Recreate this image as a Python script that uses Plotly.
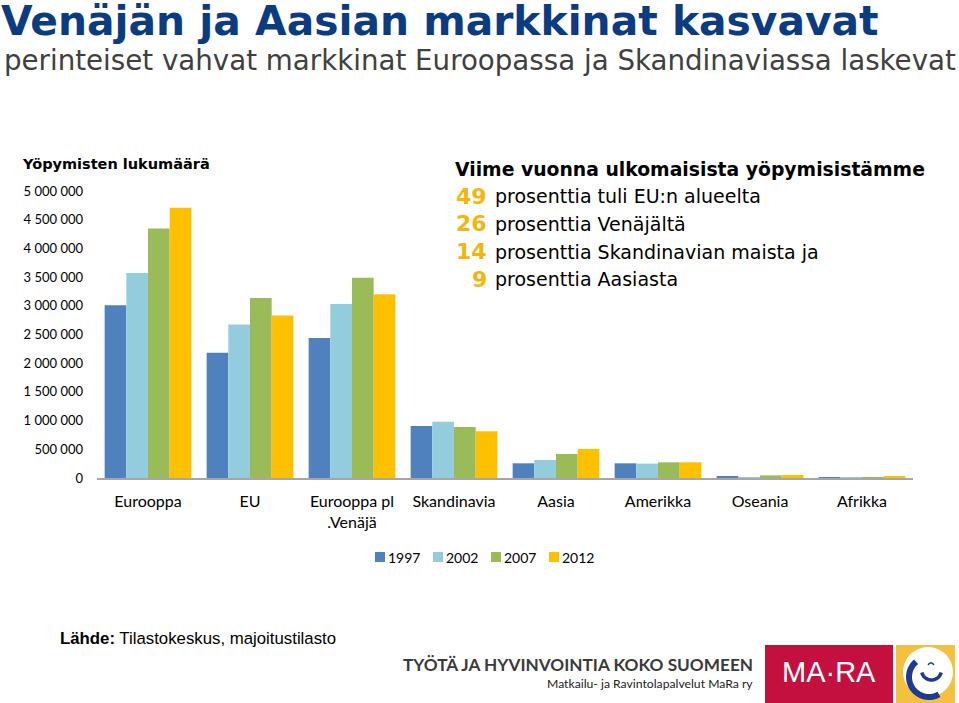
import math
import plotly.graph_objects as go

categories = ["Eurooppa", "EU", "Eurooppa pl<br>.Venäjä", "Skandinavia", "Aasia", "Amerikka", "Oseania", "Afrikka"]
years = ["1997", "2002", "2007", "2012"]
v1997 = [3010000, 2180000, 2440000, 905000, 256000, 256000, 23000, 12000]
v2002 = [3570000, 2675000, 3030000, 982000, 314000, 250000, 17000, 8000]
v2007 = [4345000, 3135000, 3490000, 890000, 419000, 273000, 46000, 15000]
v2012 = [4710000, 2830000, 3200000, 814000, 506000, 273000, 52000, 20000]
series = [v1997, v2002, v2007, v2012]
colors = ["#4F81BD", "#93CDDD", "#9BBB59", "#FFC000"]
y_ticks = [0, 500000, 1000000, 1500000, 2000000, 2500000, 3000000, 3500000, 4000000, 4500000, 5000000]

W, H = 959, 703
PL, PR, PT, PB = 97, 913, 191, 478


def px(x):
    return (x - PL) / (PR - PL)


def py(y):
    return (PB - y) / (PB - PT)


def note(x, y, text, anchor, family, size, color):
    xx = x - 2 if anchor == "left" else (x + 2 if anchor == "right" else x)
    return dict(x=px(xx), y=py(y), xref="paper", yref="paper", text=text, xanchor=anchor, yanchor="middle",
                font=dict(family=family, size=size, color=color), showarrow=False)


fig = go.Figure()
for name, vals, col in zip(years, series, colors):
    fig.add_trace(go.Bar(x=categories, y=vals, name=name, marker=dict(color=col, line=dict(width=0)),
                         showlegend=False))

ann = []
ann.append(note(1, 21, "<b>Venäjän ja Aasian markkinat kasvavat</b>", "left", "DejaVu Sans", 40.8, "#0B3B80"))
ann.append(note(4, 60, "perinteiset vahvat markkinat Euroopassa ja Skandinaviassa laskevat", "left",
                "DejaVu Sans", 27.7, "#404040"))
ann.append(note(22, 164, "<b>Yöpymisten lukumäärä</b>", "left", "DejaVu Sans", 14.5, "#000000"))
ann.append(note(455, 170, "<b>Viime vuonna ulkomaisista yöpymisistämme</b>", "left", "DejaVu Sans", 18.8, "#000000"))
nums = ["49", "26", "14", "9"]
texts = ["prosenttia tuli EU:n alueelta", "prosenttia Venäjältä", "prosenttia Skandinavian maista ja", "prosenttia Aasiasta"]
row_y = [196, 223.5, 251.5, 279]
for n, t, yy in zip(nums, texts, row_y):
    ann.append(note(487, yy, "<b>" + n + "</b>", "right", "DejaVu Sans", 22, "#F5B50F"))
    ann.append(note(495, yy, t, "left", "DejaVu Sans", 19, "#000000"))

# legend (custom, compact like the original)
leg_shapes = []
for i, (name, col) in enumerate(zip(years, colors)):
    x0 = 375 + 58 * i
    ann.append(note(388 + 58 * i, 557, name, "left", "Lato", 14, "#000000"))
    leg_shapes.append(dict(type="rect", xref="paper", yref="paper", x0=px(x0), x1=px(x0 + 10),
                           y0=py(562), y1=py(552), fillcolor=col, line=dict(width=0)))

ann.append(note(60, 638, "<b>Lähde:</b> Tilastokeskus, majoitustilasto", "left", "Liberation Sans", 16.8, "#000000"))
ann.append(note(753, 664, "<b>TYÖTÄ JA HYVINVOINTIA KOKO SUOMEEN</b>", "right", "Lato", 17.2, "#3A3A3A"))
ann.append(note(753, 683, "Matkailu- ja Ravintolapalvelut MaRa ry", "right", "Lato", 12.2, "#222222"))
ann.append(note(829, 672, "MA·RA", "center", "Liberation Sans", 29, "#FFFFFF"))

shapes = list(leg_shapes)
shapes.append(dict(type="rect", xref="paper", yref="paper", x0=px(765), x1=px(893), y0=py(645), y1=py(703),
                   fillcolor="#C3103F", line=dict(width=0), layer="below"))
shapes.append(dict(type="rect", xref="paper", yref="paper", x0=px(896), x1=px(955), y0=py(645), y1=py(703),
                   fillcolor="#F3C13F", line=dict(width=0), layer="below"))
shapes.append(dict(type="circle", xref="paper", yref="paper", x0=px(903), x1=px(953), y0=py(647), y1=py(697),
                   fillcolor="#FFFFFF", line=dict(width=0)))


def arc_path(cx, cy, r, a0, a1, n=40):
    pts = []
    for k in range(n + 1):
        a = math.radians(a0 + (a1 - a0) * k / n)
        x = cx + r * math.cos(a)
        y = cy - r * math.sin(a)
        pts.append("%.5f,%.5f" % (px(x), py(y)))
    return "M" + " L".join(pts)


shapes.append(dict(type="path", xref="paper", yref="paper", path=arc_path(929, 677, 20, 130, 300),
                   line=dict(color="#1F3A93", width=6), fillcolor="rgba(0,0,0,0)"))
shapes.append(dict(type="path", xref="paper", yref="paper", path=arc_path(931.5, 670, 10, 195, 345),
                   line=dict(color="#1F3A93", width=3.5), fillcolor="rgba(0,0,0,0)"))
shapes.append(dict(type="path", xref="paper", yref="paper", path=arc_path(931, 666, 3, 20, 160, 10),
                   line=dict(color="#1F3A93", width=1.5), fillcolor="rgba(0,0,0,0)"))

fig.update_layout(
    width=W, height=H,
    margin=dict(l=PL, r=W - PR, t=PT, b=H - PB, pad=0),
    paper_bgcolor="#FFFFFF", plot_bgcolor="#FFFFFF",
    barmode="group", bargap=0.15, bargroupgap=0,
    separators=", ",
    annotations=ann, shapes=shapes,
    showlegend=False,
)
fig.update_xaxes(showline=True, linecolor="#A6A6A6", linewidth=2, showgrid=False, zeroline=False,
                 ticks="", tickangle=0, automargin=False,
                 tickfont=dict(family="Lato", size=16, color="#000000"), ticklabelstandoff=8)
fig.update_yaxes(range=[0, 5000000], tickvals=y_ticks, tickformat=",d", showgrid=False, zeroline=False,
                 showline=False, ticks="", automargin=False, tickfont=dict(family="Lato", size=13, color="#000000"),
                 ticklabelstandoff=13)

fig.write_html("out.html", config={"displayModeBar": False},
               post_script="document.body.style.margin='0';document.body.style.overflow='hidden';")
